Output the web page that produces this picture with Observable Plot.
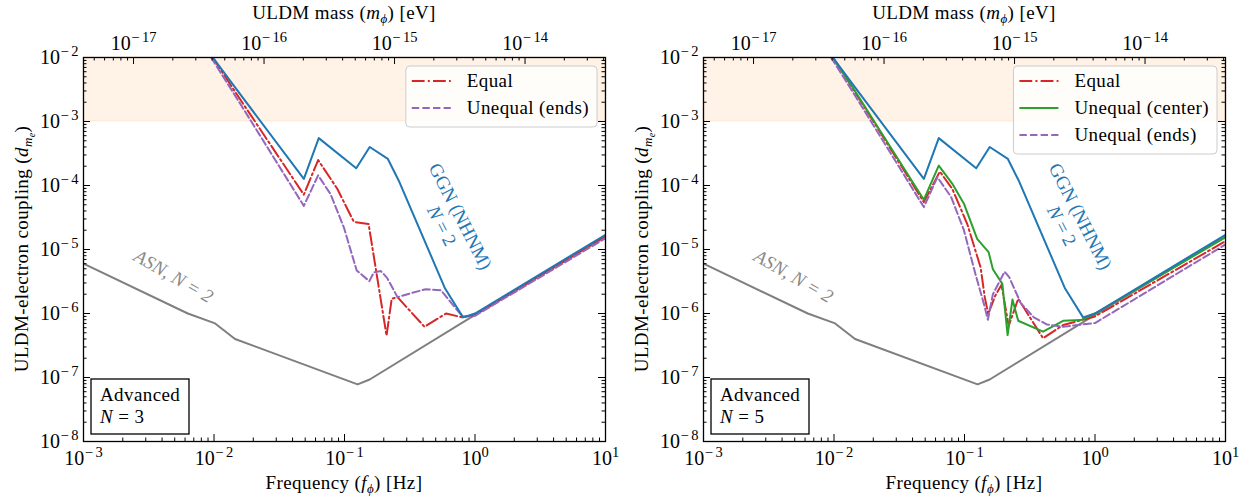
<!DOCTYPE html>
<html><head><meta charset="utf-8">
<script src="https://cdn.jsdelivr.net/npm/d3@7"></script>
<script src="https://cdn.jsdelivr.net/npm/@observablehq/plot@0.6"></script>
<style>
body{margin:0;background:#fff;}
#fig{position:relative;width:1250px;height:501px;display:flex;background:#fff;}
#fig svg{flex:none;}
</style></head><body><div id="fig"></div>
<script>
// ---------- data ----------
const freqDomain = [1e-3, 10];          // Hz
const couplingDomain = [1e-8, 1e-2];
const xTicks = [1e-3, 1e-2, 1e-1, 1, 10];
const yTicks = [1e-8, 1e-7, 1e-6, 1e-5, 1e-4, 1e-3, 1e-2];
const massTicks = [1e-17, 1e-16, 1e-15, 1e-14];   // eV
const excludedBand = [1e-3, 1e-2];
const H_EV = 4.135667696e-15; // eV per Hz

// ASN, N = 2 (grey)
const asnF = [0.001, 0.0063, 0.0102, 0.0145, 0.126, 0.156, 1.0, 10];
const asnV = [6.0e-6, 1.0e-6, 7.0e-7, 4.0e-7, 7.8e-8, 9.3e-8, 9.5e-7, 1.6e-5];

// GGN (NHNM), N = 2 (blue)
const ggnF = [0.0098, 0.0138, 0.0488, 0.0635, 0.123, 0.156, 0.215, 0.26, 0.59, 0.81, 1.0, 10];
const ggnV = [1e-2, 3.9e-3, 1.27e-4, 5.5e-4, 1.86e-4, 4.0e-4, 2.6e-4, 1.2e-4, 2.45e-6, 8.7e-7, 1.0e-6, 1.7e-5];

// Panel 1 (N = 3)
const eq3F = [0.0098, 0.0138, 0.0488, 0.0628, 0.088, 0.118, 0.153, 0.210, 0.230, 0.255, 0.41, 0.60, 0.80, 1.0, 10];
const eq3V = [1e-2, 3.4e-3, 7.2e-5, 2.5e-4, 8.9e-5, 2.7e-5, 2.5e-5, 4.5e-7, 1.7e-6, 1.8e-6, 6.2e-7, 1.0e-6, 8.7e-7, 9.5e-7, 1.6e-5];
const ends3F = [0.0095, 0.0138, 0.0488, 0.0628, 0.078, 0.099, 0.124, 0.155, 0.168, 0.190, 0.212, 0.255, 0.33, 0.42, 0.55, 0.80, 1.0, 10];
const ends3V = [1e-2, 3.0e-3, 4.8e-5, 1.44e-4, 7.4e-5, 2.2e-5, 4.7e-6, 3.2e-6, 4.4e-6, 4.6e-6, 3.6e-6, 1.8e-6, 2.1e-6, 2.4e-6, 2.3e-6, 9.0e-7, 9.2e-7, 1.5e-5];

// Panel 2 (N = 5)
const eq5F = [0.0098, 0.0138, 0.0488, 0.0647, 0.0805, 0.105, 0.133, 0.143, 0.152, 0.172, 0.192, 0.218, 0.258, 0.40, 0.57, 1.0, 10];
const eq5V = [1e-2, 3.4e-3, 5.5e-5, 1.65e-4, 8.9e-5, 2.5e-5, 5.2e-6, 1.8e-6, 9.8e-7, 1.9e-6, 2.8e-6, 6.4e-7, 1.7e-6, 4.1e-7, 6.6e-7, 9.0e-7, 1.35e-5];
const cen5F = [0.0098, 0.0138, 0.0488, 0.0635, 0.0805, 0.099, 0.125, 0.153, 0.165, 0.195, 0.214, 0.233, 0.258, 0.40, 0.57, 0.78, 1.0, 10];
const cen5V = [1e-2, 3.5e-3, 6.0e-5, 2.05e-4, 1.07e-4, 5.2e-5, 1.47e-5, 9.1e-6, 4.9e-6, 2.9e-6, 4.6e-7, 1.65e-6, 7.7e-7, 5.2e-7, 7.7e-7, 7.9e-7, 1.0e-6, 1.55e-5];
const ends5F = [0.0095, 0.0138, 0.0488, 0.062, 0.079, 0.099, 0.121, 0.141, 0.151, 0.165, 0.203, 0.220, 0.270, 0.34, 0.43, 0.57, 1.0, 10];
const ends5V = [1e-2, 3.0e-3, 4.6e-5, 1.35e-4, 6.6e-5, 2.0e-5, 4.2e-6, 1.4e-6, 8.0e-7, 2.0e-6, 4.5e-6, 3.7e-6, 1.45e-6, 8.7e-7, 6.7e-7, 6.2e-7, 7.1e-7, 1.2e-5];

// annotation anchor points (data units)
const asnLabelAt = [0.0049, 3.8e-6];
const ggnLabelAt = [0.66, 2.8e-5];

// ---------- styles ----------
const C = {blue:"#1f77b4", red:"#d62728", green:"#2ca02c", purple:"#9467bd", grey:"#7f7f7f", orange:"#ff7f0e"};
const LW = 2;
const DASHDOT = "12.8,3.2,2,3.2";
const DASHED = "7.4,3.2";
const FONT = "'Liberation Serif', 'DejaVu Serif', serif";
const TXT = 19;      // text font size
const LS = 0.4;      // letter spacing for text
const NS = "http://www.w3.org/2000/svg";
const W = 620, HGT = 501, ML = 83, MR = 15, MT = 57, MB = 60;
const IW = W - ML - MR, IH = HGT - MT - MB;

function minors(e0, e1, lo, hi) {
  const out = [];
  for (let e = e0; e <= e1; e++) for (let k = 2; k <= 9; k++) { const v = k * 10 ** e; if (v >= lo && v <= hi) out.push(v); }
  return out;
}
const xMinor = minors(-3, 0, freqDomain[0], freqDomain[1]);
const yMinor = minors(-8, -3, couplingDomain[0], couplingDomain[1]);
const massMinorF = minors(-18, -14, freqDomain[0] * H_EV, freqDomain[1] * H_EV).map(m => m / H_EV);
const massMajorF = massTicks.map(m => m / H_EV);
const pow = v => "10^" + Math.round(Math.log10(v));

function series(F, V) { return F.map((f, i) => ({f, v: V[i]})); }

function tickMarks(major, minor, side) {
  const out = [];
  for (const [data, len] of [[major, 7], [minor, 3.5]]) {
    const o = {stroke: "black", strokeWidth: 1};
    if (side === "bottom") out.push(Plot.ruleX(data, {x: d => d, insetTop: IH - len, ...o}));
    if (side === "top") out.push(Plot.ruleX(data, {x: d => d, insetBottom: IH - len, ...o}));
    if (side === "left") out.push(Plot.ruleY(data, {y: d => d, insetRight: IW - len, ...o}));
    if (side === "right") out.push(Plot.ruleY(data, {y: d => d, insetLeft: IW - len, ...o}));
  }
  return out;
}

function makePanel(curves, nValue, legend) {
  const lineMarks = curves.map(c => Plot.line(series(c.F, c.V), {
    x: "f", y: "v", stroke: c.color, strokeWidth: LW, strokeDasharray: c.dash || null, clip: true
  }));
  const svg = Plot.plot({
    width: W, height: HGT,
    marginLeft: ML, marginRight: MR, marginTop: MT, marginBottom: MB,
    x: {type: "log", domain: freqDomain},
    y: {type: "log", domain: couplingDomain},
    style: {fontFamily: FONT, fontSize: "20px", background: "white", color: "black"},
    marks: [
      Plot.rect([excludedBand], {x1: () => freqDomain[0], x2: () => freqDomain[1], y1: d => d[0], y2: d => d[1],
        fill: C.orange, fillOpacity: 0.1, stroke: C.orange, strokeOpacity: 0.1}),
      Plot.line(series(asnF, asnV), {x: "f", y: "v", stroke: C.grey, strokeWidth: LW, clip: true}),
      ...lineMarks,
      Plot.line(series(ggnF, ggnV), {x: "f", y: "v", stroke: C.blue, strokeWidth: LW, clip: true}),
      Plot.text([asnLabelAt], {x: d => d[0], y: d => d[1], text: () => "ASN, N = 2", rotate: 30,
        fill: "#8a8a8a", fontStyle: "italic", fontSize: TXT}),
      Plot.text([ggnLabelAt], {x: d => d[0], y: d => d[1], text: () => "GGN (NHNM)\nN = 2", rotate: 63,
        fill: C.blue, fontSize: TXT, lineHeight: 1.1}),
      // tick labels
      Plot.axisX({anchor: "bottom", ticks: xTicks, tickSize: 0, tickPadding: 9, tickFormat: pow, label: null, fontSize: 20}),
      Plot.axisY({anchor: "left", ticks: yTicks, tickSize: 0, tickPadding: 5, tickFormat: pow, label: null, fontSize: 20}),
      Plot.axisX({anchor: "top", ticks: massMajorF, tickSize: 0, tickPadding: 8, tickFormat: f => pow(f * H_EV), label: null, fontSize: 20}),
      // inward ticks on all four sides
      ...tickMarks(xTicks, xMinor, "bottom"),
      ...tickMarks(massMajorF, massMinorF, "top"),
      ...tickMarks(yTicks, yMinor, "left"),
      ...tickMarks(yTicks, yMinor, "right"),
      Plot.frame({stroke: "black", strokeWidth: 1.3})
    ]
  });
  return {svg, nValue, legend};
}

function el(parent, name, attrs, text) {
  const e = document.createElementNS(NS, name);
  for (const k in attrs) e.setAttribute(k, attrs[k]);
  if (text != null) e.textContent = text;
  parent.appendChild(e);
  return e;
}
function mathText(parent, attrs, parts) {
  const t = el(parent, "text", Object.assign({"font-family": FONT, "font-size": TXT, "letter-spacing": LS,
    fill: "black", "text-anchor": "start"}, attrs));
  for (const p of parts) {
    const s = el(t, "tspan", {}, p.t);
    if (p.i) s.setAttribute("font-style", "italic");
    if (p.dy) s.setAttribute("dy", p.dy);
    if (p.fs) s.setAttribute("font-size", p.fs);
  }
  return t;
}

function decorate(panel) {
  const svg = panel.svg;
  // superscripts in tick labels
  svg.querySelectorAll("text").forEach(t => {
    const m = /^10\^(-?\d+)$/.exec(t.textContent);
    if (!m) return;
    t.textContent = "10";
    t.setAttribute("font-size", 20);
    t.style.fontSize = "20px";
    t.style.fontFamily = FONT;
    const neg = m[1].startsWith("-");
    const sup = el(t, "tspan", {dy: -8, "font-size": 14.5, style: "font-size:14.5px"});
    if (neg) el(sup, "tspan", {"letter-spacing": 2.5, dx: 0.5}, "\u2212");
    sup.appendChild(document.createTextNode(neg ? m[1].slice(1) : m[1]));
  });
  // italic N in annotations
  svg.querySelectorAll("text, tspan").forEach(t => {
    if (t.childNodes.length === 1 && t.firstChild.nodeType === 3 && /N = 2$/.test(t.textContent)) {
      const txt = t.textContent; const pre = txt.slice(0, txt.length - 5);
      t.textContent = pre;
      el(t, "tspan", {"font-style": "italic"}, "N");
      t.appendChild(document.createTextNode(" = 2"));
    }
  });
  const g = el(svg, "g", {});
  const cx = ML + IW / 2;
  mathText(g, {x: cx, y: 19, "text-anchor": "middle"},
    [{t: "ULDM mass ("}, {t: "m", i: 1}, {t: "\u03d5", i: 1, dy: 4, fs: 13}, {t: ") [eV]", dy: -4}]);
  mathText(g, {x: cx, y: 489, "text-anchor": "middle"},
    [{t: "Frequency ("}, {t: "f", i: 1}, {t: "\u03d5", i: 1, dy: 4, fs: 13}, {t: ") [Hz]", dy: -4}]);
  mathText(g, {transform: "translate(28,249) rotate(-90)", "text-anchor": "middle"},
    [{t: "ULDM-electron coupling ("}, {t: "d", i: 1}, {t: "m", i: 1, dy: 4, fs: 13}, {t: "e", i: 1, dy: 3, fs: 10}, {t: ")", dy: -7}]);

  // Advanced box
  el(g, "rect", {x: 91, y: 379, width: 98, height: 55, fill: "white", stroke: "black", "stroke-width": 1.3});
  mathText(g, {x: 100, y: 401}, [{t: "Advanced"}]);
  mathText(g, {x: 100, y: 423}, [{t: "N", i: 1}, {t: " = " + panel.nValue}]);

  // legend
  const lg = el(g, "g", {});
  const rows = panel.legend;
  const box = el(lg, "rect", {rx: 4, ry: 4, fill: "white", "fill-opacity": 0.8, stroke: "#cccccc", "stroke-width": 1});
  const texts = rows.map((r, i) => {
    const y = 81 + i * 27;
    el(lg, "line", {x1: 6, x2: 45, y1: y, y2: y, stroke: r.color, "stroke-width": LW, "stroke-dasharray": r.dash || "none"});
    return mathText(lg, {x: 61, y: y + 6}, [{t: r.label}]);
  });
  const wMax = Math.max(...texts.map(t => t.getComputedTextLength()));
  const bw = 61 + wMax + 8;
  const bh = 27 * (rows.length - 1) + 15 + 19;
  box.setAttribute("x", 0); box.setAttribute("y", 66); box.setAttribute("width", bw); box.setAttribute("height", bh);
  lg.setAttribute("transform", `translate(${ML + IW - 8 - bw},0)`);
}

const fig = document.getElementById("fig");
const p1 = makePanel([
  {F: eq3F, V: eq3V, color: C.red, dash: DASHDOT},
  {F: ends3F, V: ends3V, color: C.purple, dash: DASHED}
], 3, [
  {label: "Equal", color: C.red, dash: DASHDOT},
  {label: "Unequal (ends)", color: C.purple, dash: DASHED}
]);
const p2 = makePanel([
  {F: eq5F, V: eq5V, color: C.red, dash: DASHDOT},
  {F: cen5F, V: cen5V, color: C.green},
  {F: ends5F, V: ends5V, color: C.purple, dash: DASHED}
], 5, [
  {label: "Equal", color: C.red, dash: DASHDOT},
  {label: "Unequal (center)", color: C.green},
  {label: "Unequal (ends)", color: C.purple, dash: DASHED}
]);
fig.appendChild(p1.svg);
fig.appendChild(p2.svg);
decorate(p1);
decorate(p2);
</script>
</body></html>
